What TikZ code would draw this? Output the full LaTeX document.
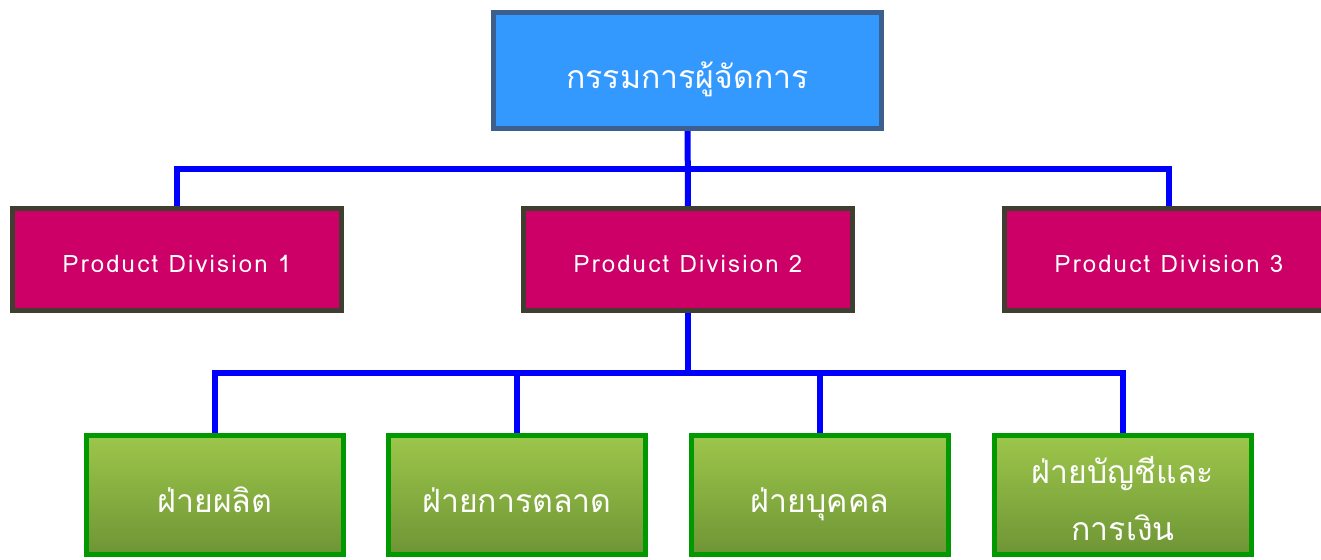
\documentclass[tikz,border=0pt]{standalone}
\usepackage{fontspec}
\newfontfamily\thaifont[Script=Thai]{Loma}
\newfontfamily\divfont[Script=Thai,LetterSpace=9]{Loma}
\definecolor{topblue}{HTML}{3399FF}
\definecolor{topline}{HTML}{3C5F8E}
\definecolor{divred}{HTML}{CC0066}
\definecolor{divline}{HTML}{3F3E30}
\definecolor{deptline}{HTML}{009900}
\definecolor{depttop}{HTML}{9DC64B}
\definecolor{deptbot}{HTML}{6E9535}
\definecolor{linkblue}{HTML}{0000FF}

\begin{document}
\begin{tikzpicture}[x=1pt, y=-1pt,
		topbox/.style={draw=topline, line width=5pt, fill=topblue, minimum width=388pt, minimum height=116pt, text=white, text height=37pt, text depth=0pt, font=\thaifont\fontsize{32}{38}\selectfont},
		divbox/.style={draw=divline, line width=5pt, fill=divred, minimum width=329pt, minimum height=102pt, text=white, text height=26pt, text depth=0pt, font=\divfont\fontsize{24}{28}\selectfont},
		deptbox/.style={draw=deptline, line width=5pt, top color=depttop, bottom color=deptbot, minimum width=257pt, minimum height=119pt, text=white, align=center, text height=35pt, text depth=0pt, font=\thaifont\fontsize{32}{57}\selectfont},
		link/.style={draw=linkblue, line width=6pt}]
		\useasboundingbox (0,0) rectangle (1321,559);
		
		\coordinate (T) at (687.5, 70.5);
		\coordinate (P1) at (177, 259.5);
		\coordinate (P2) at (688, 259.5);
		\coordinate (P3) at (1169, 259.5);
		\coordinate (F1) at (215, 495);
		\coordinate (F2) at (517, 495);
		\coordinate (F3) at (820, 495);
		\coordinate (F4) at (1123, 495);
		\coordinate (bus1) at (688, 169);
		\coordinate (bus2) at (688, 373);
		
		% connectors first, boxes on top
		\draw[link] (T) -- (P2);
		\draw[link] (P1) |- (bus1) -| (P3);
		\draw[link] (P2) -- (bus2);
		\draw[link] (F1) |- (bus2) -| (F4);
		\draw[link] (F2) -- (F2 |- bus2);
		\draw[link] (F3) -- (F3 |- bus2);
		
		\node[topbox] (md) at (T) {กรรมการผู้จัดการ};
		
		\node[divbox] (div1) at (P1) {Product Division 1};
		\node[divbox] (div2) at (P2) {Product Division 2};
		\node[divbox] (div3) at (P3) {Product Division 3};
		
		\node[deptbox] (prod) at (F1) {ฝ่ายผลิต};
		\node[deptbox] (mkt) at (F2) {ฝ่ายการตลาด};
		\node[deptbox] (hr) at (F3) {ฝ่ายบุคคล};
		\node[deptbox, text height=91pt, text depth=0pt] (fin) at (F4) {ฝ่ายบัญชีและ\\การเงิน};
\end{tikzpicture}
\end{document}
